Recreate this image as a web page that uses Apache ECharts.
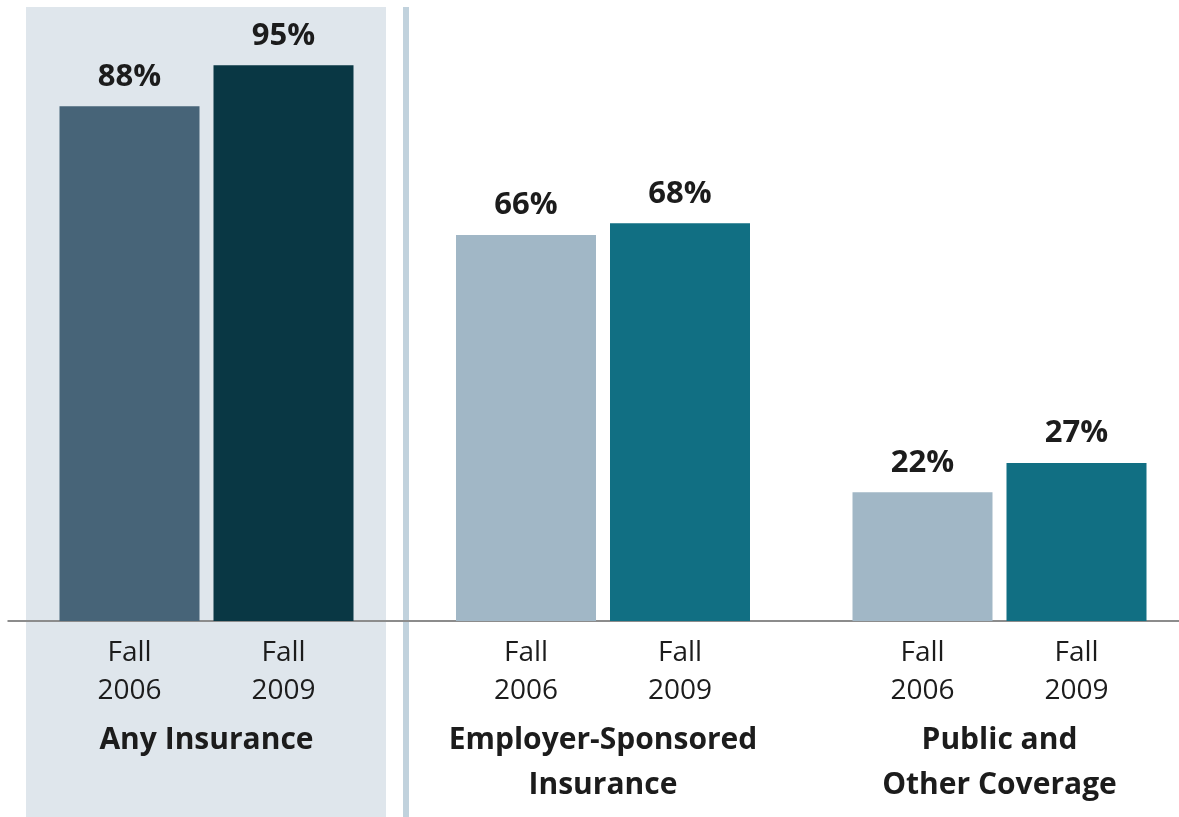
<!DOCTYPE html>
<html>
<head>
<meta charset="utf-8">
<script src="https://cdn.jsdelivr.net/npm/echarts@6/dist/echarts.min.js"></script>
<style>
html,body{margin:0;padding:0;background:#ffffff;}
#chart{width:1179px;height:817px;}
</style>
</head>
<body>
<div id="chart"></div>
<script>
// ---- data ----
var groups = ['Any Insurance', 'Employer-Sponsored\nInsurance', 'Public and\nOther Coverage'];
var periods = ['Fall\n2006', 'Fall\n2009'];
var fall2006 = [88, 66, 22];
var fall2009 = [95, 68, 27];
var yTicks = [0, 100];

// ---- styles ----
var colors2006 = ['#476478', '#a1b7c6', '#a1b7c6'];
var colors2009 = ['#093744', '#116f83', '#116f83'];
var textColor = '#1c1c1c';
var fontFam = '"Open Sans", "Noto Sans", sans-serif';

function buildItems(vals, cols) {
  return vals.map(function (v, i) {
    return { value: v, itemStyle: { color: cols[i] } };
  });
}

function axisLabelFormatter(name) {
  var p0 = periods[0].split('\n');
  var p1 = periods[1].split('\n');
  var lines = [];
  for (var k = 0; k < p0.length; k++) {
    lines.push('{p|' + p0[k] + '}{g| }{p|' + p1[k] + '}');
  }
  lines.push('{s| }');
  name.split('\n').forEach(function (l) { lines.push('{c|' + l + '}'); });
  return lines.join('\n');
}

var chart = echarts.init(document.getElementById('chart'));
var option = {
  backgroundColor: '#ffffff',
  animation: false,
  graphic: [
    { type: 'rect', z: -10, silent: true,
      shape: { x: 26, y: 7, width: 360, height: 820 },
      style: { fill: '#dfe6ec' } },
    { type: 'rect', z: -10, silent: true,
      shape: { x: 403, y: 7, width: 6, height: 820 },
      style: { fill: '#c1d2dd' } }
  ],
  grid: { left: 8.25, right: -18.75, top: 36, bottom: 196, containLabel: false, outerBoundsMode: 'none' },
  xAxis: {
    type: 'category',
    data: groups,
    axisLine: { show: true, lineStyle: { color: '#8c8c8c', width: 2 } },
    axisTick: { show: false },
    axisLabel: {
      interval: 0,
      margin: 13,
      formatter: axisLabelFormatter,
      rich: {
        p: { width: 140, align: 'center', fontFamily: fontFam, fontSize: 28, color: textColor, lineHeight: 38 },
        g: { width: 14, fontSize: 10, lineHeight: 38 },
        s: { fontSize: 4, lineHeight: 8 },
        c: { fontFamily: fontFam, fontSize: 30, fontWeight: 'bold', color: textColor, lineHeight: 45, align: 'center' }
      }
    }
  },
  yAxis: {
    type: 'value',
    min: yTicks[0],
    max: yTicks[1],
    show: false,
    splitLine: { show: false }
  },
  series: [
    {
      name: 'Fall 2006',
      type: 'bar',
      barWidth: 140,
      barGap: '10%',
      data: buildItems(fall2006, colors2006),
      label: {
        show: true, position: 'top', distance: 14,
        formatter: '{c}%',
        fontFamily: fontFam, fontSize: 31, fontWeight: 'bold', color: textColor, lineHeight: 31
      }
    },
    {
      name: 'Fall 2009',
      type: 'bar',
      barWidth: 140,
      barGap: '10%',
      data: buildItems(fall2009, colors2009),
      label: {
        show: true, position: 'top', distance: 14,
        formatter: '{c}%',
        fontFamily: fontFam, fontSize: 31, fontWeight: 'bold', color: textColor, lineHeight: 31
      }
    }
  ]
};
chart.setOption(option);
</script>
</body>
</html>
